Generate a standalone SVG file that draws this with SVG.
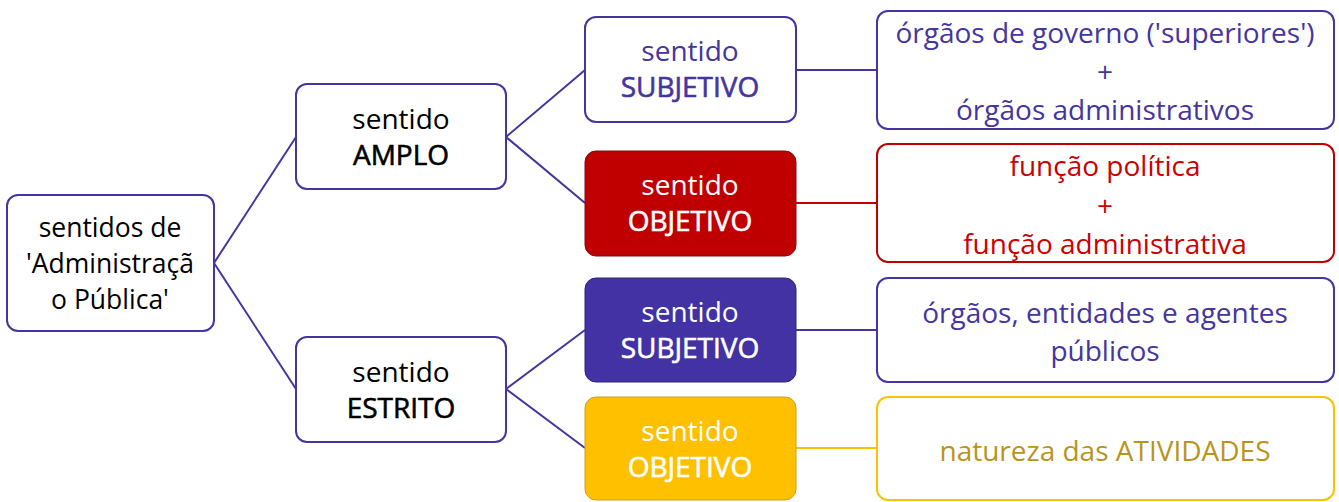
<svg xmlns="http://www.w3.org/2000/svg" width="1339" height="502" viewBox="0 0 1339 502">
<style>
text{font-family:"Open Sans",Lato,"Noto Sans",sans-serif;font-size:28px;text-anchor:middle}
.b{stroke-width:0.6}
.sm{font-size:26.5px}
.box{fill:#fff;stroke:#4535a0;stroke-width:2}
.p{fill:#4535a0;stroke:#4535a0}
.k{fill:#000;stroke:#000}
.w{fill:#fff;stroke:#fff}
.r{fill:#cc0000}
.y{fill:#b8951a}
text{stroke-width:0}
.ln{fill:none;stroke:#4535a0;stroke-width:2}
</style>
<rect width="1339" height="502" fill="#fff"/>
<g id="connectors">
<path class="ln" d="M214,263 L296,137 M214,263 L296,389 M506,137 L585,70 M506,137 L585,203 M506,389 L585,330 M506,389 L585,448 M796,70 L877,70 M796,330 L877,330"/>
<path d="M796,203 L877,203" fill="none" stroke="#c00000" stroke-width="2"/>
<path d="M796,448 L877,448" fill="none" stroke="#ffc000" stroke-width="2"/>
</g>
<g id="root">
<rect class="box" x="7" y="195" width="207" height="136" rx="11"/>
<text class="k sm" x="110" y="237">sentidos de</text>
<text class="k sm" x="110" y="273">'Administraçã</text>
<text class="k sm" x="110" y="309">o Pública'</text>
</g>
<g id="amplo">
<rect class="box" x="296" y="84" width="210" height="105" rx="11"/>
<text class="k" x="401" y="129">sentido</text>
<text class="k b" x="401" y="165">AMPLO</text>
</g>
<g id="estrito">
<rect class="box" x="296" y="337" width="210" height="105" rx="11"/>
<text class="k" x="401" y="382">sentido</text>
<text class="k b" x="401" y="418">ESTRITO</text>
</g>
<g id="subj1">
<rect class="box" x="585" y="17" width="211" height="105" rx="11"/>
<text class="p" x="690" y="61">sentido</text>
<text class="p b" x="690" y="97">SUBJETIVO</text>
</g>
<g id="obj1">
<rect x="585" y="151" width="211" height="105" rx="11" fill="#c00000" stroke="#7a1010" stroke-width="1"/>
<text class="w" x="690" y="195">sentido</text>
<text class="w b" x="690" y="231">OBJETIVO</text>
</g>
<g id="subj2">
<rect x="585" y="278" width="211" height="104" rx="11" fill="#4232a4" stroke="#2e237a" stroke-width="1"/>
<text class="w" x="690" y="322">sentido</text>
<text class="w b" x="690" y="358">SUBJETIVO</text>
</g>
<g id="obj2">
<rect x="585" y="397" width="211" height="103" rx="11" fill="#ffc000" stroke="#c9a020" stroke-width="1"/>
<text class="w" x="690" y="441">sentido</text>
<text class="w b" x="690" y="477">OBJETIVO</text>
</g>
<g id="r1">
<rect class="box" x="877" y="11" width="457" height="118" rx="11"/>
<text class="p" x="1105" y="43">órgãos de governo ('superiores')</text>
<text class="p" x="1105" y="82">+</text>
<text class="p" x="1105" y="120">órgãos administrativos</text>
</g>
<g id="r2">
<rect x="877" y="144" width="457" height="118" rx="11" fill="#fff" stroke="#c00000" stroke-width="2"/>
<text class="r" x="1105" y="176">função política</text>
<text class="r" x="1105" y="216">+</text>
<text class="r" x="1105" y="254">função administrativa</text>
</g>
<g id="r3">
<rect class="box" x="877" y="278" width="457" height="104" rx="11"/>
<text class="p" x="1105" y="323">órgãos, entidades e agentes</text>
<text class="p" x="1105" y="361">públicos</text>
</g>
<g id="r4">
<rect x="877" y="397" width="457" height="103" rx="11" fill="#fff" stroke="#ffc000" stroke-width="2"/>
<text class="y" x="1105" y="461">natureza das ATIVIDADES</text>
</g>
</svg>
